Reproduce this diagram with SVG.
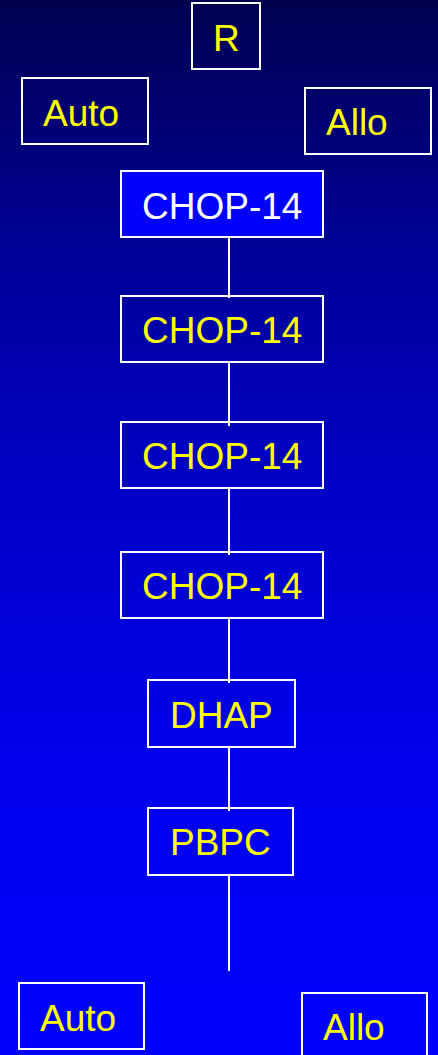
<svg xmlns="http://www.w3.org/2000/svg" width="438" height="1055" viewBox="0 0 438 1055">
<style>
.box{fill:none;stroke:#FFFFFF;stroke-width:2}
.fbox{fill:#0000FF;stroke:#FFFFFF;stroke-width:2}
.t{font-family:"Liberation Sans",Arial,sans-serif;font-size:37px;fill:#FFFF00}
.w{fill:#FFFFFF}
.c{stroke:#FFFFFF;stroke-width:2;fill:none}
</style>
<defs>
<linearGradient id="bg" x1="0" y1="0" x2="0" y2="1">
<stop offset="0" stop-color="#000050"/>
<stop offset="0.24" stop-color="#000098"/>
<stop offset="0.47" stop-color="#0000C8"/>
<stop offset="0.74" stop-color="#0000EE"/>
<stop offset="1" stop-color="#0000FF"/>
</linearGradient>
</defs>
<rect x="0" y="0" width="438" height="1055" fill="url(#bg)"/>
<g id="connectors">
<line class="c" x1="229" y1="234" x2="229" y2="298"/>
<line class="c" x1="229" y1="362" x2="229" y2="426"/>
<line class="c" x1="229" y1="488" x2="229" y2="555"/>
<line class="c" x1="229" y1="618" x2="229" y2="683"/>
<line class="c" x1="229" y1="747" x2="229" y2="811"/>
<line class="c" x1="229" y1="875" x2="229" y2="971"/>
</g>
<g id="n-R"><rect class="box" x="192" y="3" width="68" height="66"/><text class="t" x="213" y="51">R</text></g>
<g id="n-auto1"><rect class="box" x="22" y="78" width="126" height="66"/><text class="t" x="43" y="126">Auto</text></g>
<g id="n-allo1"><rect class="box" x="305" y="88" width="126" height="66"/><text class="t" x="326" y="135">Allo</text></g>
<g id="n-chop1"><rect class="fbox" x="121" y="171" width="202" height="66"/><text class="t w" x="142" y="219">CHOP-14</text></g>
<g id="n-chop2"><rect class="box" x="121" y="296" width="202" height="66"/><text class="t" x="142" y="343">CHOP-14</text></g>
<g id="n-chop3"><rect class="box" x="121" y="422" width="202" height="66"/><text class="t" x="142" y="469">CHOP-14</text></g>
<g id="n-chop4"><rect class="box" x="121" y="552" width="202" height="66"/><text class="t" x="142" y="599">CHOP-14</text></g>
<g id="n-dhap"><rect class="box" x="148" y="680" width="147" height="67"/><text class="t" x="170" y="728">DHAP</text></g>
<g id="n-pbpc"><rect class="box" x="148" y="808" width="145" height="67"/><text class="t" x="170" y="855">PBPC</text></g>
<g id="n-auto2"><rect class="box" x="19" y="983" width="125" height="66"/><text class="t" x="40" y="1031">Auto</text></g>
<g id="n-allo2"><rect class="box" x="302" y="993" width="125" height="70"/><text class="t" x="323" y="1040">Allo</text></g>
</svg>
